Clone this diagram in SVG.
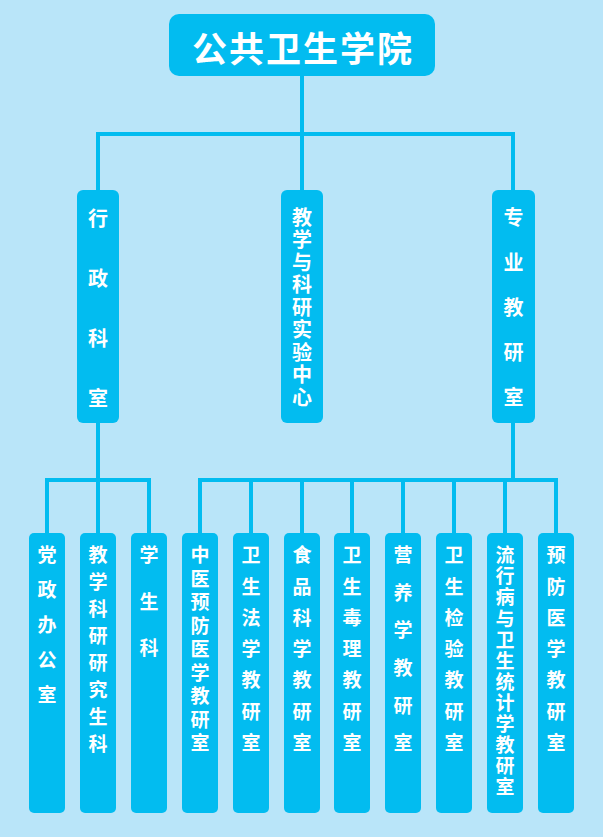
<svg xmlns="http://www.w3.org/2000/svg" width="603" height="837" viewBox="0 0 603 837">
<style>
.box{fill:#02bcf0}
.ln{stroke:#02bcf0;stroke-width:4;fill:none}
text{fill:#ffffff;font-family:"Noto Sans CJK SC","Noto Sans CJK JP",sans-serif;font-weight:bold}
.t1{font-size:35px;letter-spacing:2px;text-anchor:middle;dominant-baseline:central}
.v{writing-mode:tb;dominant-baseline:central;text-anchor:start;text-orientation:upright}
.t2{font-size:20px}
.t3{font-size:19px}
</style>
<rect x="0" y="0" width="603" height="837" fill="#b9e5f9"/>
<g id="connectors">
<path class="ln" d="M302 76V134M98 134H514M98 132V190M302 132V190M513 132V190"/>
<path class="ln" d="M98 423V480M47 480H149M47 478V533M98 478V533M149 478V533"/>
<path class="ln" d="M513 423V480M200 480H556M200 478V533M251 478V533M302 478V533M352 478V533M403 478V533M454 478V533M505 478V533M556 478V533"/>
</g>
<g id="root"><rect class="box" x="169" y="14" width="266" height="62" rx="10"/><text class="t1" x="303" y="46">公共卫生学院</text></g>
<g id="xzks"><rect class="box" x="77" y="190" width="42" height="233" rx="6"/>
<text class="t2 v" x="98" y="208" style="letter-spacing:40px">行政科室</text></g>
<g id="jxky"><rect class="box" x="281" y="190" width="42" height="233" rx="6"/>
<text class="t2 v" x="302" y="207" style="letter-spacing:2.5px">教学与科研实验中心</text></g>
<g id="zyjys"><rect class="box" x="492" y="190" width="43" height="233" rx="6"/>
<text class="t2 v" x="513.5" y="207" style="letter-spacing:25px">专业教研室</text></g>
<g id="n1"><rect class="box" x="29" y="533" width="36" height="280" rx="5"/>
<text class="t3 v" x="47" y="545.5" style="letter-spacing:16px">党政办公室</text></g>
<g id="n2"><rect class="box" x="80" y="533" width="36" height="280" rx="5"/>
<text class="t3 v" x="98" y="545.5" style="letter-spacing:7.9px">教学科研研究生科</text></g>
<g id="n3"><rect class="box" x="131" y="533" width="36" height="280" rx="5"/>
<text class="t3 v" x="149" y="545.5" style="letter-spacing:27.5px">学生科</text></g>
<g id="n4"><rect class="box" x="182" y="533" width="36" height="280" rx="5"/>
<text class="t3 v" x="200" y="545.5" style="letter-spacing:4.5px">中医预防医学教研室</text></g>
<g id="n5"><rect class="box" x="233" y="533" width="36" height="280" rx="5"/>
<text class="t3 v" x="251" y="545.5" style="letter-spacing:12.3px">卫生法学教研室</text></g>
<g id="n6"><rect class="box" x="284" y="533" width="36" height="280" rx="5"/>
<text class="t3 v" x="302" y="545.5" style="letter-spacing:12.3px">食品科学教研室</text></g>
<g id="n7"><rect class="box" x="334" y="533" width="36" height="280" rx="5"/>
<text class="t3 v" x="352" y="545.5" style="letter-spacing:12.3px">卫生毒理教研室</text></g>
<g id="n8"><rect class="box" x="385" y="533" width="36" height="280" rx="5"/>
<text class="t3 v" x="403" y="545.5" style="letter-spacing:18.6px">营养学教研室</text></g>
<g id="n9"><rect class="box" x="436" y="533" width="36" height="280" rx="5"/>
<text class="t3 v" x="454" y="545.5" style="letter-spacing:12.3px">卫生检验教研室</text></g>
<g id="n10"><rect class="box" x="487" y="533" width="36" height="280" rx="5"/>
<text class="t3 v" x="505" y="545.5" style="letter-spacing:2.1px">流行病与卫生统计学教研室</text></g>
<g id="n11"><rect class="box" x="538" y="533" width="36" height="280" rx="5"/>
<text class="t3 v" x="556" y="545.5" style="letter-spacing:12.3px">预防医学教研室</text></g>
</svg>
